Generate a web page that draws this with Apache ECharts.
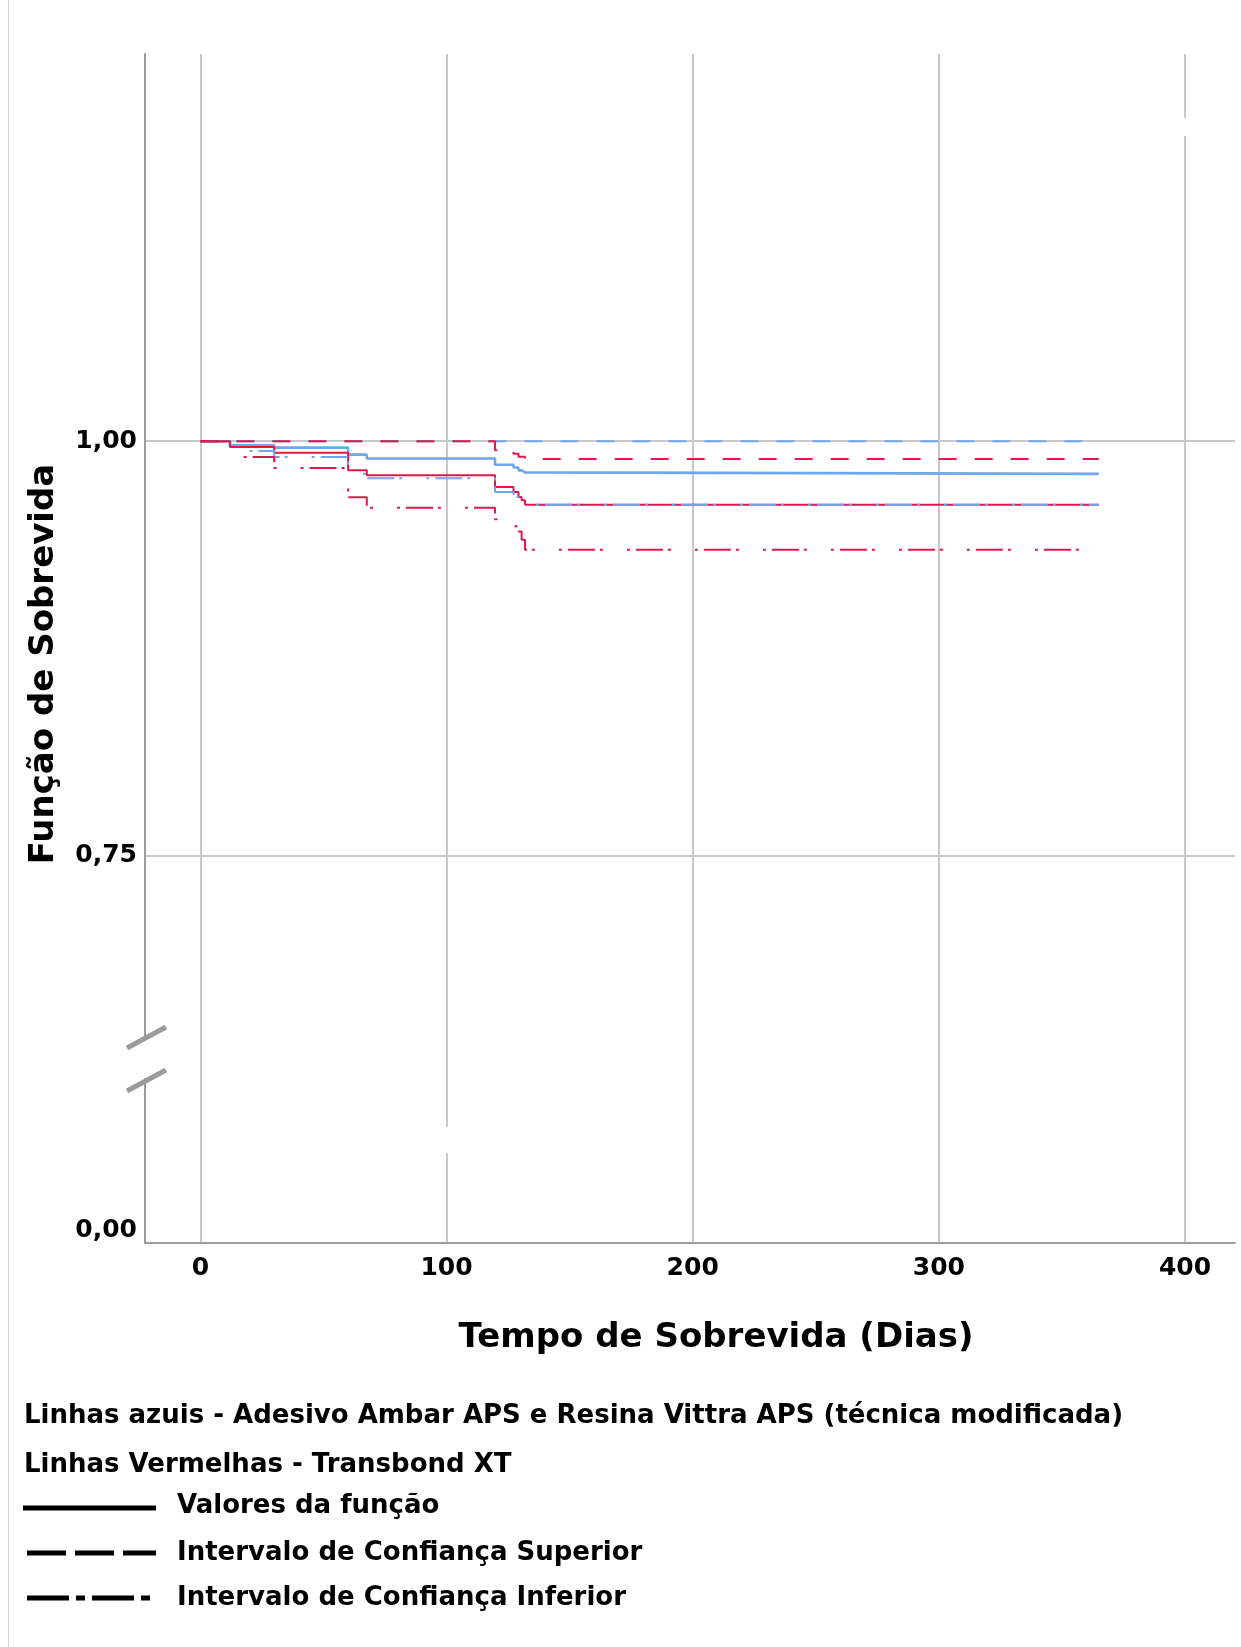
<!DOCTYPE html>
<html>
<head>
<meta charset="utf-8">
<script src="https://cdn.jsdelivr.net/npm/echarts@6/dist/echarts.min.js"></script>
<style>
  html, body { margin: 0; padding: 0; background: #fff; }
  #main { width: 1241px; height: 1647px; }
</style>
</head>
<body>
<div id="main"></div>
<script>
// tempos dos eventos (dias) - curva em degraus
const dias = [0, 12, 30, 60, 67.6, 119.7, 127.2, 129.2, 130.5, 131.9, 365];

// Linhas azuis - Adesivo Ambar APS e Resina Vittra APS
const azulFuncao = [1, 0.9975, 0.9961, 0.9919, 0.9896, 0.9858, 0.9841, 0.9824, 0.9812, 0.9803, 0.9803];
const azulSuperior = [1, 1, 1, 1, 1, 1, 1, 1, 1, 1, 1];
const azulInferior = [1, 0.9941, 0.9905, 0.9804, 0.9776, 0.9693, 0.9663, 0.9643, 0.9617, 0.9617, 0.9617];

// Linhas vermelhas - Transbond XT
const vermFuncao = [1, 0.9965, 0.9931, 0.9824, 0.9794, 0.9724, 0.9693, 0.9663, 0.9643, 0.9617, 0.9617];
const vermSuperior = [1, 1, 1, 1, 1, 0.9945, 0.9925, 0.9906, 0.9906, 0.9893, 0.9893];
const vermInferior = [1, 0.9905, 0.9838, 0.9661, 0.9599, 0.9529, 0.9487, 0.9455, 0.9405, 0.9345, 0.9345];

const marcasX = [0, 100, 200, 300, 400];
const marcasY = [0.75, 1.00];
const marcaYBaixo = [0];

const tituloX = 'Tempo de Sobrevida (Dias)';
const tituloY = 'Função de Sobrevida';
const legendaGrupos = [
  'Linhas azuis - Adesivo Ambar APS e Resina Vittra APS (técnica modificada)',
  'Linhas Vermelhas - Transbond XT'
];
const legendaTipos = [
  'Valores da função',
  'Intervalo de Confiança Superior',
  'Intervalo de Confiança Inferior'
];

const AZUL = '#6ea7ea';
const VERM = '#e2174b';
const GRADE = '#c8c8c8';
const EIXO = '#9c9c9c';
const FONTE = '"DejaVu Sans", Verdana, sans-serif';
const TRACO = [18, 18];
const TRACO_PONTO = [27, 5, 3, 24, 3, 6];

const fmt = v => v.toFixed(2).replace('.', ',');
const perto = (v, lista) => lista.some(m => Math.abs(v - m) < 1e-6);

function serie(nome, valores, cor, largura, tipo, z) {
  return {
    name: nome,
    type: 'line',
    step: 'end',
    symbol: 'none',
    z: z,
    xAxisIndex: 0,
    yAxisIndex: 0,
    data: dias.map((d, i) => [d, valores[i]]),
    lineStyle: { color: cor, width: largura, type: tipo, cap: 'butt' },
    emphasis: { disabled: true }
  };
}

const chart = echarts.init(document.getElementById('main'));

const labelEixo = { fontFamily: FONTE, fontWeight: 'bold', fontSize: 25, color: '#000' };

const option = {
  animation: false,
  backgroundColor: '#fff',
  grid: [
    { left: 145, top: 54, width: 1090, height: 984 },
    { left: 145, top: 1038, width: 1090, height: 205 }
  ],
  xAxis: [
    {
      gridIndex: 0, type: 'value', min: -22.5, max: 420.3,
      minInterval: 100, maxInterval: 100,
      axisLine: { show: false }, axisTick: { show: false }, axisLabel: { show: false },
      splitLine: { show: true, showMinLine: false, showMaxLine: false, lineStyle: { color: GRADE, width: 2 } }
    },
    {
      gridIndex: 1, type: 'value', min: -22.5, max: 420.3,
      minInterval: 100, maxInterval: 100,
      axisLine: { show: true, onZero: false, lineStyle: { color: EIXO, width: 2 } },
      axisTick: { show: false },
      axisLabel: Object.assign({
        margin: 13,
        showMinLabel: true, showMaxLabel: true,
        formatter: v => perto(v, marcasX) ? String(Math.round(v)) : ''
      }, labelEixo),
      splitLine: { show: true, showMinLine: false, showMaxLine: false, lineStyle: { color: GRADE, width: 2 } }
    }
  ],
  yAxis: [
    {
      gridIndex: 0, type: 'value', min: 0.6398, max: 1.2337,
      minInterval: 0.25, maxInterval: 0.25,
      axisLine: { show: true, onZero: false, lineStyle: { color: EIXO, width: 2 } },
      axisTick: { show: false },
      axisLabel: Object.assign({
        margin: 8,
        showMinLabel: true, showMaxLabel: true,
        formatter: v => perto(v, marcasY) ? fmt(v) : ''
      }, labelEixo),
      splitLine: { show: true, showMinLine: false, showMaxLine: false, lineStyle: { color: GRADE, width: 2 } }
    },
    {
      gridIndex: 1, type: 'value', min: 0, max: 1, interval: 1,
      axisLine: { show: true, onZero: false, lineStyle: { color: EIXO, width: 2 } },
      axisTick: { show: false },
      axisLabel: Object.assign({
        margin: 8,
        verticalAlign: 'bottom',
        formatter: v => perto(v, marcaYBaixo) ? fmt(v) : ''
      }, labelEixo),
      splitLine: { show: false }
    }
  ],
  series: [
    serie('azul funcao', azulFuncao, AZUL, 2.6, 'solid', 2),
    serie('azul superior', azulSuperior, AZUL, 2, TRACO, 3),
    serie('verm funcao', vermFuncao, VERM, 2, 'solid', 4),
    serie('azul inferior', azulInferior, AZUL, 2, TRACO_PONTO, 5),
    serie('verm superior', vermSuperior, VERM, 2, TRACO, 6),
    serie('verm inferior', vermInferior, VERM, 2, TRACO_PONTO, 7)
  ],
  graphic: [
    // borda fina à esquerda
    { type: 'line', z: 50, shape: { x1: 8.5, y1: 0, x2: 8.5, y2: 1647 }, style: { stroke: '#d6d6d6', lineWidth: 1 } },
    // falhas nas linhas de grade
    { type: 'rect', z: 50, shape: { x: 1181, y: 118, width: 8, height: 18 }, style: { fill: '#fff' } },
    { type: 'rect', z: 50, shape: { x: 442, y: 1127, width: 8, height: 26 }, style: { fill: '#fff' } },
    // quebra do eixo y
    { type: 'rect', z: 50, shape: { x: 140, y: 1041, width: 10, height: 37 }, style: { fill: '#fff' } },
    { type: 'line', z: 51, shape: { x1: 127, y1: 1048, x2: 166, y2: 1027 }, style: { stroke: '#9c9c9c', lineWidth: 5 } },
    { type: 'line', z: 51, shape: { x1: 127, y1: 1091, x2: 166, y2: 1070 }, style: { stroke: '#9c9c9c', lineWidth: 5 } },
    // titulos
    {
      type: 'text', z: 60, x: 44, y: 664, rotation: Math.PI / 2,
      style: { text: tituloY, font: 'bold 34px ' + FONTE, fill: '#000', textAlign: 'center', textVerticalAlign: 'middle' }
    },
    {
      type: 'text', z: 60, x: 716, y: 1338,
      style: { text: tituloX, font: 'bold 34px ' + FONTE, fill: '#000', textAlign: 'center', textVerticalAlign: 'middle' }
    },
    // legenda
    { type: 'text', z: 60, x: 24, y: 1416, style: { text: legendaGrupos[0], font: 'bold 26px ' + FONTE, fill: '#000', textVerticalAlign: 'middle' } },
    { type: 'text', z: 60, x: 24, y: 1465, style: { text: legendaGrupos[1], font: 'bold 26px ' + FONTE, fill: '#000', textVerticalAlign: 'middle' } },
    { type: 'line', z: 60, shape: { x1: 23, y1: 1508, x2: 156, y2: 1508 }, style: { stroke: '#000', lineWidth: 5 } },
    { type: 'line', z: 60, shape: { x1: 27, y1: 1553, x2: 156, y2: 1553 }, style: { stroke: '#000', lineWidth: 5, lineDash: [39, 9] } },
    { type: 'line', z: 60, shape: { x1: 27, y1: 1598, x2: 156, y2: 1598 }, style: { stroke: '#000', lineWidth: 5, lineDash: [42, 7, 9, 7] } },
    { type: 'text', z: 60, x: 177, y: 1506, style: { text: legendaTipos[0], font: 'bold 26px ' + FONTE, fill: '#000', textVerticalAlign: 'middle' } },
    { type: 'text', z: 60, x: 177, y: 1553, style: { text: legendaTipos[1], font: 'bold 26px ' + FONTE, fill: '#000', textVerticalAlign: 'middle' } },
    { type: 'text', z: 60, x: 177, y: 1598, style: { text: legendaTipos[2], font: 'bold 26px ' + FONTE, fill: '#000', textVerticalAlign: 'middle' } }
  ]
};

option && chart.setOption(option);
</script>
</body>
</html>
